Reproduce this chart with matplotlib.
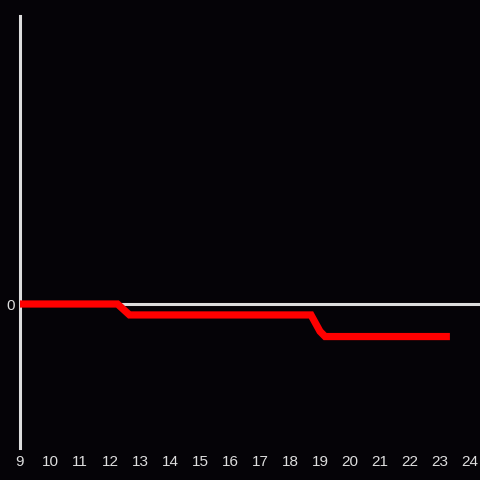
import matplotlib
matplotlib.use("Agg")
import matplotlib.pyplot as plt

# data
hours = [9, 12.25, 12.65, 18.7, 19.0, 19.17, 23.33]
values = [0, 0, -0.076, -0.076, -0.19, -0.226, -0.226]
xticks = list(range(9, 25))

bg = '#050307'
fg = '#dddddd'

plt.rcParams['font.family'] = ['Liberation Sans', 'DejaVu Sans']

fig = plt.figure(figsize=(4.8, 4.8), dpi=100, facecolor=bg)
ax = fig.add_axes([20 / 480, 32 / 480, 460 / 480, 432 / 480], facecolor=bg)

ax.set_xlim(9, 9 + 460 / 30)
ax.set_ylim(-1, 2)

# zero line
ax.axhline(0, color=fg, linewidth=2.2, zorder=1)
ax.plot(hours, values, color='#ff0000', linewidth=5.2, solid_joinstyle='miter',
        solid_capstyle='butt', zorder=3)

for s in ['top', 'right', 'bottom']:
    ax.spines[s].set_visible(False)
ax.spines['left'].set_color(fg)
ax.spines['left'].set_linewidth(2.2)

ax.set_xticks(xticks)
ax.set_xticklabels([str(t) for t in xticks])
ax.set_yticks([0])
ax.set_yticklabels(['0'])
ax.tick_params(axis='x', length=0, pad=5, colors=fg, labelsize=11)
ax.tick_params(axis='y', length=0, pad=4, colors=fg, labelsize=11)

fig.savefig('out.png', dpi=100, facecolor=bg)
